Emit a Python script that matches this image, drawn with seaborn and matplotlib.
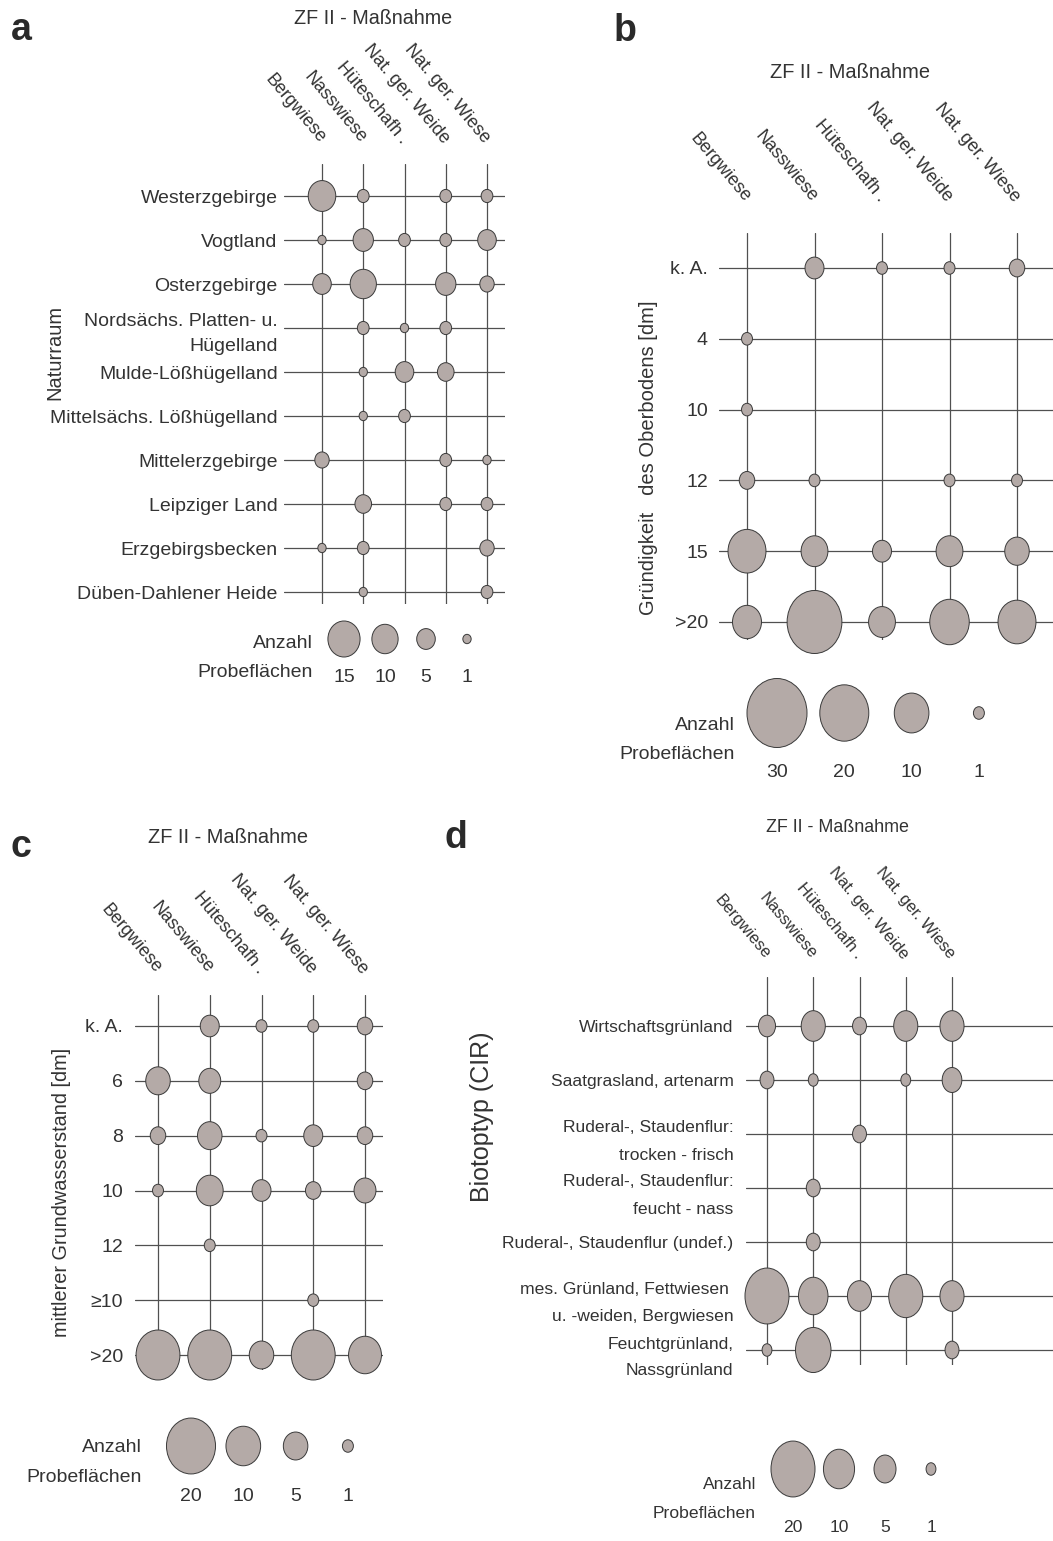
import numpy as np
import pandas as pd
import matplotlib
matplotlib.use("Agg")
import matplotlib.pyplot as plt
from matplotlib.path import Path
from matplotlib.markers import MarkerStyle
import seaborn as sns

# ---------------- data ----------------
massnahmen = ["Bergwiese", "Nasswiese", "Hüteschafh .", "Nat. ger. Weide", "Nat. ger. Wiese"]

naturraum = ["Westerzgebirge", "Vogtland", "Osterzgebirge",
             "Nordsächs. Platten- u.\nHügelland", "Mulde-Lößhügelland",
             "Mittelsächs. Lößhügelland", "Mittelerzgebirge", "Leipziger Land",
             "Erzgebirgsbecken", "Düben-Dahlener Heide"]
counts_naturraum = [
    [11, 2, 0, 2, 2],
    [1, 6, 2, 2, 5],
    [5, 10, 0, 6, 3],
    [0, 2, 1, 2, 0],
    [0, 1, 5, 4, 0],
    [0, 1, 2, 0, 0],
    [3, 0, 0, 2, 1],
    [0, 4, 0, 2, 2],
    [1, 2, 0, 0, 3],
    [0, 1, 0, 0, 2],
]

gruendigkeit = ["k. A.", "4", "10", "12", "15", ">20"]
counts_gruendigkeit = [
    [0, 3, 1, 1, 2],
    [1, 0, 0, 0, 0],
    [1, 0, 0, 0, 0],
    [2, 1, 0, 1, 1],
    [12, 6, 3, 6, 5],
    [7, 25, 6, 13, 12],
]

grundwasser = ["k. A.", "6", "8", "10", "12", "≥10", ">20"]
counts_grundwasser = [
    [0, 3, 1, 1, 2],
    [5, 4, 0, 0, 2],
    [2, 5, 1, 3, 2],
    [1, 6, 3, 2, 4],
    [0, 1, 0, 0, 0],
    [0, 0, 0, 1, 0],
    [16, 16, 5, 16, 9],
]

biotoptyp = ["Wirtschaftsgrünland", "Saatgrasland, artenarm",
             "Ruderal-, Staudenflur:\ntrocken - frisch",
             "Ruderal-, Staudenflur:\nfeucht - nass",
             "Ruderal-, Staudenflur (undef.)",
             "mes. Grünland, Fettwiesen \nu. -weiden, Bergwiesen",
             "Feuchtgrünland,\nNassgrünland"]
counts_biotoptyp = [
    [3, 6, 2, 6, 6],
    [2, 1, 0, 1, 4],
    [0, 0, 2, 0, 0],
    [0, 2, 0, 0, 0],
    [0, 2, 0, 0, 0],
    [20, 9, 6, 12, 6],
    [1, 13, 0, 0, 2],
]

legend_a = [15, 10, 5, 1]
legend_b = [30, 20, 10, 1]
legend_c = [20, 10, 5, 1]
legend_d = [20, 10, 5, 1]

title_text = "ZF II - Maßnahme"
legend_text = "Anzahl\nProbeflächen"
ylabel_a = "Naturraum"
ylabel_b = "Gründigkeit   des Oberbodens [dm]"
ylabel_c = "mittlerer Grundwasserstand [dm]"
ylabel_d = "Biotoptyp (CIR)"

# ---------------- style ----------------
sns.set_theme(style="white")
plt.rcParams["font.family"] = ["Liberation Sans", "DejaVu Sans"]
TEXT = "#333333"
FILL = "#b4aaa7"
EDGE = "#3a3a3a"
GRID = "#505050"
plt.rcParams["text.color"] = TEXT
plt.rcParams["axes.labelcolor"] = TEXT
plt.rcParams["xtick.color"] = TEXT
plt.rcParams["ytick.color"] = TEXT

W, H = 1053, 1541
fig = plt.figure(figsize=(W / 100, H / 100), dpi=100)


def fx(x):
    return x / W


def fy(y):
    return 1 - y / H


def add_ax(x0, y0, x1, y1):
    return fig.add_axes([x0 / W, 1 - y1 / H, (x1 - x0) / W, (y1 - y0) / H])


def long_form(rows, counts):
    recs = []
    for r, row in zip(rows, counts):
        for c, v in zip(massnahmen, row):
            if v > 0:
                recs.append((c, r, v))
    df = pd.DataFrame(recs, columns=["Maßnahme", "Kategorie", "Anzahl"])
    df["Maßnahme"] = pd.Categorical(df["Maßnahme"], categories=massnahmen)
    df["Kategorie"] = pd.Categorical(df["Kategorie"], categories=rows)
    return df


def ellipse_marker(aspect):
    circ = Path.unit_circle()
    verts = circ.vertices * np.array([1.0 / aspect, 1.0])
    return MarkerStyle(Path(verts, circ.codes))


def draw_panel(rows, counts, legend_vals, letter, ylabel, L):
    x0, y0, x1, y1 = L["box"]
    ax = add_ax(x0, y0, x1, y1)
    df = long_form(rows, counts)
    vmax = max(max(legend_vals), int(df["Anzahl"].max()))
    s_per = (0.72 * L["k"]) ** 2
    marker = ellipse_marker(L["aspect"])
    sns.scatterplot(data=df, x="Maßnahme", y="Kategorie", size="Anzahl",
                    sizes=(0, s_per * vmax), size_norm=(0, vmax),
                    marker=marker, color=FILL, edgecolor=EDGE, linewidth=0.7,
                    legend=False, ax=ax, zorder=3, clip_on=False)
    nc, nr = len(massnahmen), len(rows)
    cx0, cx1 = L["cols"]
    ry0, ry1 = L["rows"]
    dx = (cx1 - cx0) / (nc - 1)
    dy = (ry1 - ry0) / (nr - 1)
    ax.set_xlim(-(cx0 - x0) / dx, nc - 1 + (x1 - cx1) / dx)
    ax.set_ylim(nr - 1 + (y1 - ry1) / dy, -(ry0 - y0) / dy)
    ax.set_xticks(range(nc), labels=massnahmen)
    ax.set_yticks(range(nr), labels=rows)
    ax.xaxis.tick_top()
    ax.tick_params(axis="x", length=0, pad=L["xpad"], labelsize=L["xfs"])
    ax.tick_params(axis="y", length=0, pad=L["ypad"], labelsize=L["yfs"])
    for t in ax.get_xticklabels():
        t.set_rotation(-50)
        t.set_ha("right")
        t.set_va("center")
        t.set_rotation_mode("anchor")
    for t in ax.get_yticklabels():
        t.set_linespacing(L["ls"])
    ax.grid(True, color=GRID, linewidth=0.9)
    ax.set_axisbelow(True)
    for sp in ax.spines.values():
        sp.set_visible(False)
    ax.set_xlabel("")
    ax.set_ylabel(ylabel, fontsize=L["ylfs"], va="center")
    ax.yaxis.set_label_coords(fx(L["ylab"][0]), fy(L["ylab"][1]), transform=fig.transFigure)

    fig.text(fx(L["title"][0]), fy(L["title"][1]), title_text, ha="center", va="center",
             fontsize=L["tfs"])
    fig.text(fx(L["letter"][0]), fy(L["letter"][1]), letter, ha="center", va="baseline",
             fontsize=27, fontweight="bold", color="#2a2a2a")

    # size legend
    n = len(legend_vals)
    lx0, ldx, lyc = L["leg"]
    lax = add_ax(lx0 - ldx / 2, lyc - 20, lx0 + ldx * (n - 0.5), lyc + 20)
    sns.scatterplot(x=[str(v) for v in legend_vals], y=[0] * n, size=legend_vals,
                    sizes=(0, s_per * vmax), size_norm=(0, vmax),
                    marker=marker, color=FILL, edgecolor=EDGE, linewidth=0.7,
                    legend=False, ax=lax, clip_on=False)
    lax.set_xlim(-0.5, n - 0.5)
    lax.set_ylim(-1, 1)
    lax.set_yticks([])
    lax.tick_params(axis="x", length=0, pad=L["lpad"], labelsize=L["yfs"])
    for sp in lax.spines.values():
        sp.set_visible(False)
    lax.grid(False)
    fig.text(fx(L["legtxt"][0]), fy(L["legtxt"][1]), legend_text, ha="right", va="center",
             multialignment="right", fontsize=L["yfs"], linespacing=L["lls"])
    return ax


layout_a = dict(box=(284, 164, 505, 604), cols=(322, 487), rows=(196, 592), k=9.3, aspect=1.12,
                xpad=16.5, ypad=4.5, xfs=13, yfs=14, ls=1.65, ylfs=14.5, ylab=(55, 352),
                title=(373, 19), tfs=14.2, letter=(21, 40), leg=(344, 41, 639), lpad=7,
                legtxt=(313, 658), lls=1.95)
layout_b = dict(box=(719, 233, 1053, 640), cols=(747, 1017), rows=(268, 622), k=12.6, aspect=1.15,
                xpad=24, ypad=8, xfs=13, yfs=14, ls=1.65, ylfs=14.5, ylab=(648, 458),
                title=(850, 72), tfs=14.4, letter=(625, 41), leg=(777, 67.3, 713), lpad=22,
                legtxt=(735, 740), lls=1.9)
layout_c = dict(box=(135, 995, 383, 1370), cols=(158, 365), rows=(1026, 1355), k=12.5, aspect=1.14,
                xpad=17, ypad=8.5, xfs=13, yfs=14, ls=1.65, ylfs=14.3, ylab=(62, 1192),
                title=(228, 837), tfs=14.4, letter=(21, 857), leg=(191, 52.3, 1446), lpad=16,
                legtxt=(142, 1462), lls=2.0)
layout_d = dict(box=(746, 977, 1053, 1365), cols=(767, 952), rows=(1026, 1350), k=12.5, aspect=1.27,
                xpad=14.5, ypad=9, xfs=12, yfs=12.6, ls=2.0, ylfs=18, ylab=(482, 1117),
                title=(837, 828), tfs=12.9, letter=(456, 848), leg=(793, 46, 1469), lpad=22,
                legtxt=(756, 1499), lls=2.2)

draw_panel(naturraum, counts_naturraum, legend_a, "a", ylabel_a, layout_a)
draw_panel(gruendigkeit, counts_gruendigkeit, legend_b, "b", ylabel_b, layout_b)
draw_panel(grundwasser, counts_grundwasser, legend_c, "c", ylabel_c, layout_c)
draw_panel(biotoptyp, counts_biotoptyp, legend_d, "d", ylabel_d, layout_d)

fig.savefig("out.png", dpi=100, facecolor="white")
